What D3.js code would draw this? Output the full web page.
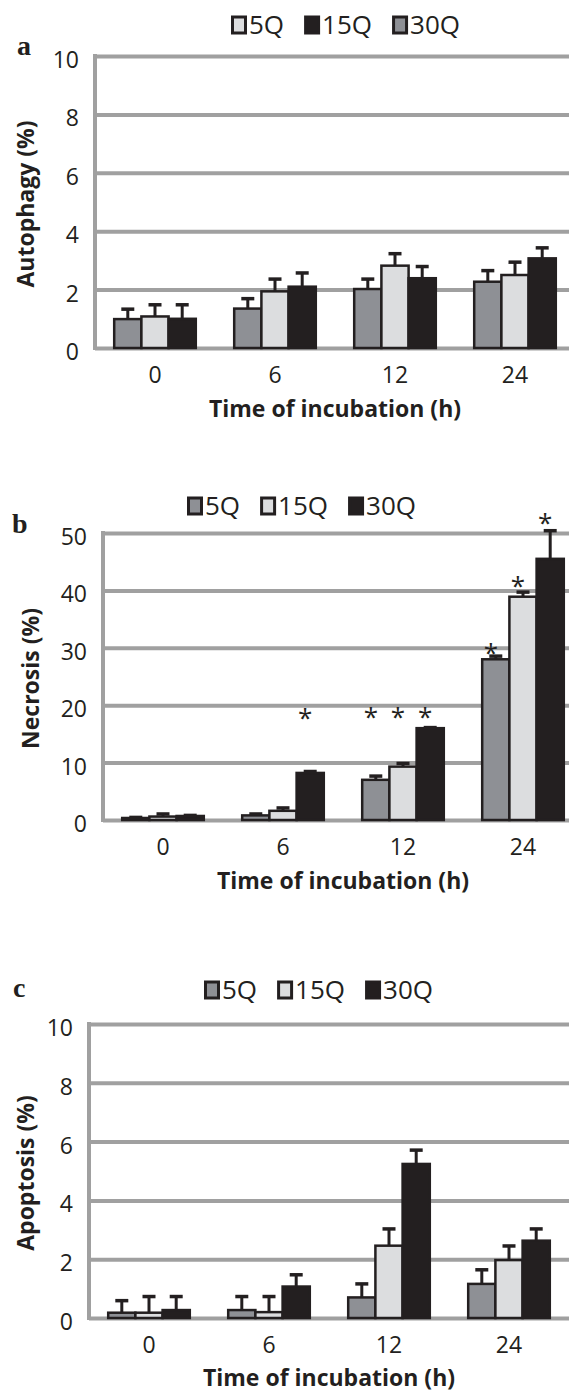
<!DOCTYPE html>
<html>
<head>
<meta charset="utf-8">
<script src="https://cdn.jsdelivr.net/npm/d3@7"></script>
<style>
  body { margin: 0; background: #fff; }
</style>
</head>
<body>
<div id="chart"></div>
<script>
// ---- data ----
const times = ["0", "6", "12", "24"];
const series = ["5Q", "15Q", "30Q"];

const ticksPct10 = [0, 2, 4, 6, 8, 10];
const ticksPct50 = [0, 10, 20, 30, 40, 50];

// a. Autophagy (rows follow `series`)
const autophagyMean = [[1.08, 1.94, 2.82, 2.50], [1.00, 2.10, 2.39, 3.07], [0.99, 1.35, 2.02, 2.27]];
const autophagyErr  = [[0.40, 0.42, 0.41, 0.44], [0.48, 0.47, 0.40, 0.36], [0.34, 0.34, 0.34, 0.38]];
const autophagyOrder = ["30Q", "5Q", "15Q"];

// b. Necrosis
const necrosisMean = [[0.35, 0.8, 7.0, 28.0], [0.6, 1.6, 9.3, 38.9], [0.7, 8.2, 16.0, 45.5]];
const necrosisErr  = [[0.1, 0.25, 0.65, 0.55], [0.45, 0.5, 0.55, 0.8], [0.1, 0.25, 0.1, 4.9]];
const necrosisStars = [[null, null, 18.9, 30.0], [null, null, 18.9, 41.6], [null, 18.6, 18.9, 52.6]];

// c. Apoptosis
const apoptosisMean = [[0.18, 0.27, 0.70, 1.16], [0.18, 0.20, 2.46, 1.97], [0.27, 1.07, 5.24, 2.63]];
const apoptosisErr  = [[0.41, 0.46, 0.46, 0.48], [0.55, 0.53, 0.57, 0.48], [0.46, 0.40, 0.47, 0.40]];

// ---- styles ----
const INK = "#231f20", GRID = "#a0a0a0", MID = "#8e9095", LIGHT = "#dcdddf";
const FONT = "'Open Sans', Lato, sans-serif";
const SERIF = "'Liberation Serif', 'DejaVu Serif', serif";

const svg = d3.select("#chart").append("svg")
  .attr("width", 569)
  .attr("height", 1395);

svg.append("rect").attr("width", 569).attr("height", 1395).attr("fill", "#fff");

const panels = [
  { letter: "a", yLabel: "Autophagy (%)", ticks: ticksPct10, mean: autophagyMean, err: autophagyErr,
    stars: null, colors: [LIGHT, INK, MID], order: autophagyOrder,
    left: 95, top: 56, bottom: 348, legendX: 231, legendY: 34, letterXY: [17, 55],
    xTitleY: 417, yTitleX: 25 },
  { letter: "b", yLabel: "Necrosis (%)", ticks: ticksPct50, mean: necrosisMean, err: necrosisErr,
    stars: necrosisStars, colors: [MID, LIGHT, INK], order: series,
    left: 103, top: 533, bottom: 820, legendX: 187, legendY: 515, letterXY: [12, 533],
    xTitleY: 889, yTitleX: 30 },
  { letter: "c", yLabel: "Apoptosis (%)", ticks: ticksPct10, mean: apoptosisMean, err: apoptosisErr,
    stars: null, colors: [MID, LIGHT, INK], order: series,
    left: 89, top: 1024, bottom: 1318, legendX: 204, legendY: 999, letterXY: [13, 997],
    xTitleY: 1386, yTitleX: 25 }
];

panels.forEach(drawPanel);

function drawPanel(p) {
  const plotW = 480;
  const g = svg.append("g");

  const x0 = d3.scaleBand().domain(times)
    .range([p.left, p.left + plotW])
    .paddingInner(0.32).paddingOuter(0.16);
  const x1 = d3.scaleBand().domain(p.order).range([0, x0.bandwidth()]);
  const y = d3.scaleLinear().domain([0, d3.max(p.ticks)]).range([p.bottom, p.top]);
  const color = k => p.colors[series.indexOf(k)];

  // gridlines + y tick labels
  const yAxis = g.append("g")
    .attr("transform", `translate(${p.left},0)`)
    .call(d3.axisLeft(y).tickValues(p.ticks).tickSize(-600).tickPadding(16));
  yAxis.select(".domain").remove();
  yAxis.selectAll("line").attr("stroke", GRID).attr("stroke-width", 4);
  yAxis.selectAll("text")
    .attr("font-family", FONT).attr("font-size", 23).attr("fill", INK)
    .attr("dy", "0.5em");

  // left axis line
  g.append("line")
    .attr("x1", p.left).attr("x2", p.left)
    .attr("y1", p.top - 2).attr("y2", p.bottom + 2)
    .attr("stroke", GRID).attr("stroke-width", 4);

  // flatten values
  const rows = times.flatMap((t, i) => p.order.map(k => {
    const s = series.indexOf(k);
    return { t, k, v: p.mean[s][i], e: p.err[s][i], star: p.stars ? p.stars[s][i] : null };
  }));
  const cx = d => x0(d.t) + x1(d.k) + x1.bandwidth() / 2;

  // bars
  g.selectAll(".bar")
    .data(rows)
    .enter()
    .append("rect")
    .attr("class", "bar")
    .attr("x", d => x0(d.t) + x1(d.k))
    .attr("y", d => y(d.v))
    .attr("width", x1.bandwidth())
    .attr("height", d => y(0) - y(d.v))
    .attr("fill", d => color(d.k))
    .attr("stroke", INK)
    .attr("stroke-width", 2.5);

  // error bars (upper only)
  g.selectAll(".err")
    .data(rows)
    .enter()
    .append("line")
    .attr("class", "err")
    .attr("x1", cx).attr("x2", cx)
    .attr("y1", d => y(d.v)).attr("y2", d => y(d.v + d.e))
    .attr("stroke", INK).attr("stroke-width", 3);

  g.selectAll(".cap")
    .data(rows)
    .enter()
    .append("line")
    .attr("class", "cap")
    .attr("x1", d => cx(d) - 6.5).attr("x2", d => cx(d) + 6.5)
    .attr("y1", d => y(d.v + d.e)).attr("y2", d => y(d.v + d.e))
    .attr("stroke", INK).attr("stroke-width", 3.5);

  // significance stars
  g.selectAll(".star")
    .data(rows.filter(d => d.star != null))
    .enter()
    .append("text")
    .attr("class", "star")
    .attr("x", d => cx(d) - 5)
    .attr("y", d => y(d.star) + 14)
    .attr("text-anchor", "middle")
    .attr("font-family", FONT).attr("font-size", 26).attr("fill", INK)
    .text("*");

  // x tick labels
  const xAxis = g.append("g")
    .attr("transform", `translate(0,${p.bottom})`)
    .call(d3.axisBottom(x0).tickSize(0));
  xAxis.select(".domain").remove();
  xAxis.selectAll("text")
    .attr("y", 35).attr("dy", null)
    .attr("font-family", FONT).attr("font-size", 23).attr("fill", INK);

  // axis titles
  g.append("text")
    .attr("x", p.left + plotW / 2)
    .attr("y", p.xTitleY)
    .attr("text-anchor", "middle")
    .attr("font-family", FONT).attr("font-size", 23).attr("font-weight", "bold").attr("fill", INK)
    .text("Time of incubation (h)");

  g.append("text")
    .attr("transform", `translate(${p.yTitleX},${(p.top + p.bottom) / 2 + 2}) rotate(-90)`)
    .attr("text-anchor", "middle")
    .attr("dominant-baseline", "central")
    .attr("font-family", FONT).attr("font-size", 23).attr("font-weight", "bold").attr("fill", INK)
    .text(p.yLabel);

  // panel letter
  g.append("text")
    .attr("x", p.letterXY[0]).attr("y", p.letterXY[1])
    .attr("font-family", SERIF).attr("font-size", 28).attr("font-weight", "bold").attr("fill", INK)
    .text(p.letter);

  // legend
  let lx = p.legendX;
  series.forEach((k, i) => {
    g.append("rect")
      .attr("x", lx + 1.5).attr("y", p.legendY - 17)
      .attr("width", 13).attr("height", 16)
      .attr("fill", p.colors[i])
      .attr("stroke", INK).attr("stroke-width", 3);
    const t = g.append("text")
      .attr("x", lx + 18).attr("y", p.legendY)
      .attr("font-family", FONT).attr("font-size", 26).attr("fill", INK)
      .text(k);
    lx += 18 + t.node().getComputedTextLength() + 20;
  });
}
</script>
</body>
</html>
